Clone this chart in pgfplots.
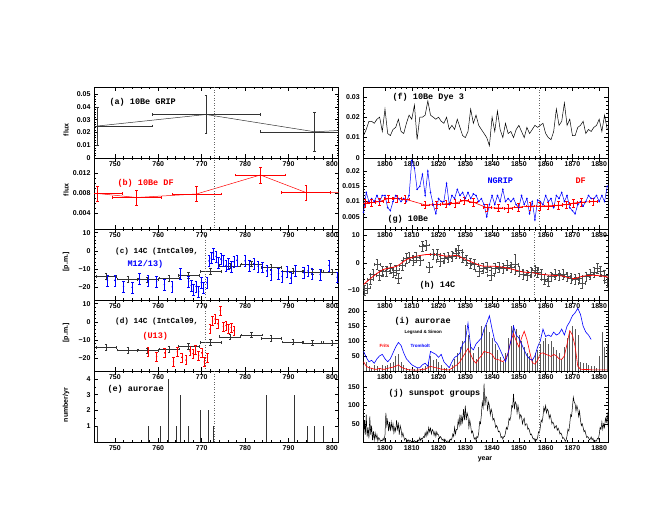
\documentclass[border=0pt]{standalone}
\usepackage{fontspec}
\setmainfont{Liberation Sans}
\newfontfamily\pl{Liberation Mono}
\usepackage{pgfplots}
\pgfplotsset{compat=1.18}
\newcommand\tf{\fontsize{7}{8}\selectfont\bfseries}
\newcommand\lf{\fontsize{8.5}{9}\selectfont\pl\bfseries}
\newcommand\lfc{\fontsize{7.7}{9}\selectfont\pl\bfseries}
\newcommand\smf{\fontsize{4.5}{5}\selectfont\bfseries}
\pgfplotsset{
 panel/.style={scale only axis, height=71pt, anchor=south west,
   axis line style={line width=0.6pt}, tick align=inside,
   major tick length=4pt, minor tick length=2pt,
   every tick/.style={black, line width=0.5pt},
   ticklabel style={font=\tf}, scaled ticks=false,
   error bars/error bar style={line width=0.4pt},
   error bars/error mark options={rotate=90, mark size=1.3pt, line width=0.4pt}},
 L/.style={panel, at={(94pt,#1)}, width=244.5pt, xmin=745.2, xmax=801.5,
   xtick={750,760,770,780,790,800}, xticklabels={750,760,770,780,790,800}, minor x tick num=4},
 R/.style={panel, at={(363.3pt,#1)}, width=245pt, xmin=1791.9, xmax=1883.4,
   xtick={1800,1810,1820,1830,1840,1850,1860,1870,1880},
   xticklabels={1800,1810,1820,1830,1840,1850,1860,1870,1880}, minor x tick num=4},
 ebxy/.style={error bars/.cd, x dir=both, x explicit, y dir=both, y explicit},
 eby/.style={error bars/.cd, y dir=both, y explicit},
 vl/.style={black!60, dotted, line width=0.6pt},
}
\begin{document}
\begin{tikzpicture}
\path[use as bounding box, fill=white] (0,0) rectangle (667pt,516pt);
% ---------------- (a)
\begin{axis}[L=358pt, ymin=0, ymax=0.0555, ytick={0,0.01,0.02,0.03,0.04,0.05},
  yticklabels={0,0.01,0.02,0.03,0.04,0.05}, minor y tick num=4]
\addplot[black!80, line width=0.5pt, mark=none, ebxy] coordinates {
 (746,0.025) +- (12.5,0.015) (771,0.034) +- (12.5,0.015)
 (796,0.0205) +- (12.5,0.015) (821,0.025) +- (12.5,0.015)};
\addplot[vl] coordinates {(773,0) (773,0.06)};
\end{axis}
% ---------------- (b)
\begin{axis}[L=287pt, ymin=0.0008, ymax=0.015, ytick={0.004,0.008,0.012},
  yticklabels={0.004,0.008,0.012}, minor y tick num=3]
\addplot[red, line width=0.5pt, mark=none, ebxy] coordinates {
 (746,0.0079) +- (5.7,0.0015) (755,0.0071) +- (5.7,0.0015) (768.8,0.0078) +- (5.7,0.0015)
 (783.5,0.0116) +- (5.7,0.0016) (794,0.0081) +- (5.7,0.0015) (808,0.0081) +- (5.7,0.0015)};
\addplot[vl] coordinates {(773,0) (773,0.02)};
\end{axis}
% ---------------- (c)
\begin{axis}[L=216pt, ymin=-27, ymax=12, ytick={-20,-10,0,10},
  yticklabels={−20,−10,0,10}, minor y tick num=4]
\addplot[black!80, only marks, mark=+, mark size=1pt, ebxy] coordinates {
 (748,-14) +- (2.4,1.5) (753,-15.5) +- (2.4,1.5) (757.5,-15.8) +- (2.4,1.5)
 (762.5,-15) +- (2.4,1.5) (767,-13.5) +- (2.4,1.5) (772,-11.3) +- (2.4,1.5)
 (776.5,-8.2) +- (2.4,1.5) (781.5,-7.2) +- (2.4,1.5) (786,-9) +- (2.4,1.5)
 (791,-11) +- (2.4,1.5) (795.5,-11.5) +- (2.4,1.5) (800,-11.5) +- (2.4,1.5)};
\addplot[blue, only marks, mark=*, mark size=0.5pt, eby] coordinates {
 (748.3,-16.2) +- (0,3) (750,-16.2) +- (0,3) (752,-19.5) +- (0,3) (754,-20) +- (0,3)
 (755.7,-15.5) +- (0,3) (757.6,-16.5) +- (0,3) (759.6,-17) +- (0,3) (761.4,-18.5) +- (0,3)
 (763.2,-19.8) +- (0,3) (765.1,-12.8) +- (0,3) (767,-17) +- (0,3) (767.6,-19) +- (0,3)
 (768.1,-21.5) +- (0,3) (768.7,-19.5) +- (0,3) (769.3,-22.5) +- (0,3) (769.9,-17.5) +- (0,3)
 (770.4,-20.5) +- (0,3) (771.2,-17.5) +- (0,3)
 (771.7,-5.5) +- (0,3) (772.2,-4) +- (0,3) (772.7,-1.5) +- (0,3) (773.3,-3) +- (0,3)
 (773.8,-6.5) +- (0,3) (774.4,-4.5) +- (0,3) (775,-5.5) +- (0,3) (775.6,-8) +- (0,3)
 (776.2,-7) +- (0,3) (776.8,-8.5) +- (0,3) (777.4,-6) +- (0,3) (778.1,-5.2) +- (0,3)
 (780,-5.5) +- (0,3) (781,-8) +- (0,3) (782,-7) +- (0,3) (783,-8.5) +- (0,3)
 (784,-9) +- (0,3) (785,-11) +- (0,3) (786,-13) +- (0,3) (787.7,-12.5) +- (0,3)
 (788.5,-14) +- (0,3) (789.6,-11.5) +- (0,3) (790.5,-15) +- (0,3) (791.6,-11) +- (0,3)
 (793.5,-12) +- (0,3) (794.5,-11) +- (0,3) (795.4,-12.5) +- (0,3) (797.3,-13) +- (0,3)
 (799.3,-8) +- (0,3) (801.2,-14.5) +- (0,3)};
\addplot[vl] coordinates {(770.8,-30) (770.8,15)};
\end{axis}
% ---------------- (d)
\begin{axis}[L=145pt, ymin=-27, ymax=12, ytick={-20,-10,0,10},
  yticklabels={−20,−10,0,10}, minor y tick num=4]
\addplot[black!80, only marks, mark=+, mark size=1pt, ebxy] coordinates {
 (748,-14) +- (2.4,1.5) (753,-15.5) +- (2.4,1.5) (757.5,-15.8) +- (2.4,1.5)
 (762.5,-15) +- (2.4,1.5) (767,-13.5) +- (2.4,1.5) (772,-11.3) +- (2.4,1.5)
 (776.5,-8.2) +- (2.4,1.5) (781.5,-7.2) +- (2.4,1.5) (786,-9) +- (2.4,1.5)
 (791,-11) +- (2.4,1.5) (795.5,-11.5) +- (2.4,1.5) (800,-11.5) +- (2.4,1.5)};
\addplot[red, only marks, mark=*, mark size=0.5pt, eby] coordinates {
 (757.6,-16.5) +- (0,2.5) (759.6,-19) +- (0,2.5) (761.5,-17) +- (0,2.5) (763.5,-22) +- (0,2.5)
 (764.4,-16.5) +- (0,2.5) (765.4,-19.5) +- (0,2.5) (766.4,-21) +- (0,2.5) (767.3,-16) +- (0,2.5)
 (768,-17.5) +- (0,2.5) (768.6,-15.5) +- (0,2.5) (769.3,-18.5) +- (0,2.5) (770,-17) +- (0,2.5)
 (770.6,-22) +- (0,2.5) (771.3,-19.5) +- (0,2.5)
 (771.9,-4) +- (0,2.5) (772.5,0.5) +- (0,2.5) (773.1,1.5) +- (0,2.5) (773.7,-1) +- (0,2.5)
 (774.3,6.3) +- (0,2.5) (775,-2.5) +- (0,2.5) (775.6,-2) +- (0,2.5) (776.2,-4) +- (0,2.5)
 (776.8,-3) +- (0,2.5) (777.4,-4.8) +- (0,2.5)};
\addplot[vl] coordinates {(770.8,-30) (770.8,15)};
\end{axis}
% ---------------- (e)
\begin{axis}[L=74pt, ymin=0, ymax=4.5, ytick={1,2,3,4}, yticklabels={1,2,3,4}, minor y tick num=1]
\addplot[ycomb, black!80, line width=0.6pt, mark=none] coordinates {
 (745.9,1) (757.6,1) (760.5,1) (762.3,4) (764.1,1) (765,3) (766.8,1) (769.7,2)
 (771.6,2) (772.6,1) (784.8,3) (791.4,3) (794.2,1) (796,1) (798,1) (801.4,1)};
\addplot[vl] coordinates {(773,0) (773,5)};
\end{axis}
% ---------------- (f)
\begin{axis}[R=358pt, ymin=0, ymax=0.0348, ytick={0,0.01,0.02,0.03},
  yticklabels={0,0.01,0.02,0.03}, minor y tick num=4]
\addplot[black, line width=0.5pt] table {
1792 0.011
1793 0.014
1794 0.018
1795 0.018
1796 0.017
1797 0.019
1798 0.020
1799 0.013
1800 0.024
1801 0.012
1802 0.011
1803 0.014
1804 0.015
1805 0.019
1806 0.013
1807 0.012
1808 0.017
1809 0.021
1810 0.019
1811 0.026
1812 0.009
1813 0.020
1814 0.020
1815 0.021
1816 0.028
1817 0.021
1818 0.020
1819 0.019
1820 0.020
1821 0.018
1822 0.017
1823 0.020
1824 0.014
1825 0.016
1826 0.014
1827 0.019
1828 0.015
1829 0.011
1830 0.010
1831 0.013
1832 0.024
1833 0.017
1834 0.021
1835 0.016
1836 0.014
1837 0.012
1838 0.010
1839 0.006
1840 0.020
1841 0.013
1842 0.023
1843 0.014
1844 0.010
1845 0.017
1846 0.012
1847 0.013
1848 0.010
1849 0.014
1850 0.016
1851 0.013
1852 0.010
1853 0.015
1854 0.012
1855 0.014
1856 0.016
1857 0.015
1858 0.016
1859 0.017
1860 0.012
1861 0.010
1862 0.009
1863 0.013
1864 0.024
1865 0.016
1866 0.018
1867 0.027
1868 0.016
1869 0.019
1870 0.011
1871 0.011
1872 0.015
1873 0.016
1874 0.018
1875 0.012
1876 0.014
1877 0.013
1878 0.015
1879 0.016
1880 0.019
1881 0.013
1882 0.021
1883 0.014
};
\addplot[vl] coordinates {(1857.6,0) (1857.6,0.04)};
\end{axis}
% ---------------- (g)
\begin{axis}[R=287pt, ymin=0.001, ymax=0.0243, ytick={0.005,0.01,0.015,0.02},
  yticklabels={0.005,0.01,0.015,0.02}, minor y tick num=4]
\addplot[blue, line width=0.5pt, mark=*, mark size=0.5pt] table {
1792 0.0065
1793 0.013
1794 0.010
1795 0.011
1796 0.010
1797 0.012
1798 0.010
1799 0.012
1800 0.012
1801 0.008
1802 0.007
1803 0.010
1804 0.012
1805 0.011
1806 0.010
1807 0.011
1808 0.010
1809 0.012
1810 0.0235
1811 0.021
1812 0.014
1813 0.015
1814 0.019
1815 0.012
1816 0.020
1817 0.013
1818 0.009
1819 0.006
1820 0.011
1821 0.010
1822 0.010
1823 0.016
1824 0.009
1825 0.012
1826 0.011
1827 0.014
1828 0.012
1829 0.013
1830 0.011
1831 0.013
1832 0.011
1833 0.0125
1834 0.012
1835 0.010
1836 0.011
1837 0.009
1838 0.005
1839 0.009
1840 0.012
1841 0.009
1842 0.012
1843 0.010
1844 0.014
1845 0.010
1846 0.011
1847 0.010
1848 0.011
1849 0.009
1850 0.008
1851 0.012
1852 0.009
1853 0.011
1854 0.006
1855 0.010
1856 0.004
1857 0.0105
1858 0.010
1859 0.009
1860 0.012
1861 0.010
1862 0.011
1863 0.008
1864 0.012
1865 0.011
1866 0.013
1867 0.010
1868 0.012
1869 0.008
1870 0.007
1871 0.006
1872 0.009
1873 0.010
1874 0.0085
1875 0.010
1876 0.012
1877 0.011
1878 0.011
1879 0.012
1880 0.010
1881 0.012
1882 0.010
1883 0.015
};
\addplot[red, line width=0.6pt, mark=none, ebxy] coordinates {
 (1792.5,0.0095) +- (1.5,0.0012) (1795,0.0097) +- (1.5,0.0012) (1798,0.0100) +- (1.5,0.0012)
 (1801.2,0.0110) +- (1.5,0.0012) (1804.4,0.0110) +- (1.5,0.0012) (1807.5,0.0108) +- (1.5,0.0012)
 (1815,0.0089) +- (1.5,0.0012) (1819.3,0.0090) +- (1.5,0.0012) (1822.8,0.0093) +- (1.5,0.0012)
 (1826.1,0.0095) +- (1.5,0.0012) (1829.5,0.0103) +- (1.5,0.0012) (1833,0.0098) +- (1.5,0.0012)
 (1838,0.0080) +- (1.5,0.0012) (1842.3,0.0079) +- (1.5,0.0012) (1846,0.0078) +- (1.5,0.0012)
 (1849.8,0.0082) +- (1.5,0.0012) (1854.1,0.0085) +- (1.5,0.0012) (1857.8,0.0085) +- (1.5,0.0012)
 (1860.9,0.0086) +- (1.5,0.0012) (1864.7,0.0088) +- (1.5,0.0012) (1867.8,0.0090) +- (1.5,0.0012)
 (1870.3,0.0095) +- (1.5,0.0012) (1873.4,0.0098) +- (1.5,0.0012) (1877.7,0.0100) +- (1.5,0.0012)};
\addplot[vl] coordinates {(1857.6,0) (1857.6,0.03)};
\end{axis}
% ---------------- (h)
\begin{axis}[R=216pt, ymin=-13.4, ymax=12.2, ytick={-10,0,10},
  yticklabels={−10,0,10}, minor y tick num=4]
\addplot[black!70, only marks, mark=+, mark size=0.8pt, ebxy] coordinates {
 (1792.3,-10) +- (1.2,1.8) (1793.2,-9) +- (1.2,1.8) (1794.5,-6) +- (1.2,1.8) (1795.5,-4) +- (1.2,1.8)
 (1797,-0.5) +- (1.2,1.8) (1798,-4.5) +- (1.2,1.8) (1799,-3) +- (1.2,1.8) (1800.5,-3) +- (1.2,1.8)
 (1802,-2) +- (1.2,1.8) (1803,-3.5) +- (1.2,1.8) (1804,-2.5) +- (1.2,1.8) (1805,-5.5) +- (1.2,1.8)
 (1806.5,-1) +- (1.2,1.8) (1808,1.5) +- (1.2,1.8) (1809,2) +- (1.2,1.8) (1810.5,1) +- (1.2,1.8)
 (1811.5,2) +- (1.2,1.8) (1813,1) +- (1.2,1.8) (1814,6) +- (1.2,1.8) (1815.3,6.5) +- (1.2,1.8)
 (1816.5,-1.5) +- (1.2,1.8) (1818,3) +- (1.2,1.8) (1819.5,3) +- (1.2,1.8) (1820.5,0.5) +- (1.2,1.8)
 (1822,1.5) +- (1.2,1.8) (1823.5,2) +- (1.2,1.8) (1825,2.5) +- (1.2,1.8) (1826.5,3.5) +- (1.2,1.8)
 (1827.5,4.5) +- (1.2,1.8) (1829,2) +- (1.2,1.8) (1830.5,1) +- (1.2,1.8) (1832,0) +- (1.2,1.8)
 (1833.5,-0.5) +- (1.2,1.8) (1835,-3) +- (1.2,1.8) (1836.5,-2) +- (1.2,1.8) (1838,-1.5) +- (1.2,1.8)
 (1839.5,-4.5) +- (1.2,1.8) (1841,-2) +- (1.2,1.8) (1842.5,-1.5) +- (1.2,1.8) (1844,-2) +- (1.2,1.8)
 (1845.5,-1) +- (1.2,1.8) (1847,-1.5) +- (1.2,1.8) (1848.5,-0.5) +- (1.2,3.5) (1850,-3) +- (1.2,1.8)
 (1851.5,-4) +- (1.2,1.8) (1853,-4.5) +- (1.2,1.8) (1854.5,-3.5) +- (1.2,1.8) (1856,-2.5) +- (1.2,1.8)
 (1857,-3.5) +- (1.2,1.8) (1858.5,-4) +- (1.2,1.8) (1859.5,-6) +- (1.2,1.8) (1861,-6.5) +- (1.2,1.8)
 (1862,-5) +- (1.2,1.8) (1863.5,-4) +- (1.2,1.8) (1865,-4.5) +- (1.2,1.8) (1866.5,-4) +- (1.2,1.8)
 (1868,-5) +- (1.2,1.8) (1869.5,-5.5) +- (1.2,1.8) (1871,-6) +- (1.2,1.8) (1872.5,-5.5) +- (1.2,1.8)
 (1873.5,-7.5) +- (1.2,1.8) (1875,-5) +- (1.2,1.8) (1876.5,-4) +- (1.2,1.8) (1878,-3.5) +- (1.2,1.8)
 (1879.3,-2) +- (1.2,1.8) (1880.5,-3) +- (1.2,1.8) (1882,-4.5) +- (1.2,1.8) (1883,-7) +- (1.2,1.8)};
\addplot[red, smooth, line width=0.8pt] coordinates {
 (1792,-7.8) (1795.7,-4.8) (1799.4,-2.4) (1804.4,-1.2) (1808.1,1.2) (1811.9,2.4) (1815.6,3)
 (1819.3,3) (1823,2.4) (1826.7,2.6) (1829.8,1.4) (1833,0) (1836.7,-1.2) (1840.4,-1.2)
 (1844.2,-1.6) (1847.9,-2.4) (1851.6,-3.3) (1855.3,-3.6) (1859,-4.2) (1862.8,-4.5)
 (1866.5,-4.8) (1870.3,-5.7) (1874,-4.8) (1877.7,-4.5) (1881.4,-4.8) (1883.4,-5.2)};
\addplot[vl] coordinates {(1855.8,-20) (1855.8,20)};
\end{axis}
% ---------------- (i)
\begin{axis}[R=145pt, ymin=-1, ymax=238, ytick={50,100,150,200},
  yticklabels={50,100,150,200}, minor y tick num=4]
\addplot[ycomb, black!65, line width=0.5pt, mark=none] coordinates {
 (1792,20) (1793,30) (1794,15) (1795,10) (1796,20) (1797,15) (1798,10) (1799,20) (1800,15)
 (1801,20) (1802,25) (1803,30) (1804,50) (1805,55) (1806,30) (1807,20) (1808,10) (1809,5)
 (1810,5) (1811,5) (1812,10) (1813,5) (1814,10) (1815,15) (1816,30) (1817,50) (1818,35)
 (1819,40) (1820,30) (1821,20) (1822,10) (1823,10) (1824,5) (1825,20) (1826,40) (1827,60)
 (1828,80) (1829,100) (1830,155) (1831,120) (1832,90) (1833,60) (1834,40) (1835,80)
 (1836,150) (1837,140) (1838,155) (1839,130) (1840,110) (1841,90) (1842,70) (1843,45)
 (1844,30) (1845,60) (1846,110) (1847,150) (1848,155) (1849,140) (1850,120) (1851,100)
 (1852,80) (1853,60) (1854,50) (1855,40) (1856,60) (1857,70) (1858,90) (1859,100)
 (1860,110) (1861,90) (1862,100) (1863,80) (1864,70) (1865,60) (1866,40) (1867,80)
 (1868,110) (1869,130) (1870,150) (1871,140) (1872,120) (1873,30) (1874,25) (1875,25)
 (1876,20) (1877,15) (1878,15) (1879,10) (1880,50) (1881,130) (1882,80) (1883,90)};
\addplot[red, line width=0.6pt] coordinates {
 (1792,30) (1793,15) (1794,10) (1795,8) (1796,5) (1797,5) (1798,8) (1799,5) (1800,5)
 (1801,8) (1802,10) (1803,12) (1804,15) (1805,20) (1806,12) (1807,8) (1808,5) (1809,3)
 (1810,3) (1811,2) (1812,2) (1813,3) (1814,5) (1815,5) (1816,10) (1817,15) (1818,12)
 (1819,10) (1820,8) (1821,5) (1822,5) (1823,3) (1824,3) (1825,8) (1826,15) (1827,20)
 (1828,30) (1829,45) (1830,60) (1831,75) (1832,55) (1833,35) (1834,25) (1835,40)
 (1836,50) (1837,65) (1838,62) (1839,60) (1840,55) (1841,40) (1842,38) (1843,35)
 (1844,30) (1845,40) (1846,60) (1847,100) (1848,125) (1849,100) (1850,80) (1851,110)
 (1852,133) (1853,105) (1854,65) (1855,28) (1856,22) (1857,35) (1858,58) (1859,60)
 (1860,55) (1861,52) (1862,48) (1863,55) (1864,50) (1865,40) (1866,38) (1867,50)
 (1868,90) (1869,135) (1870,120) (1871,82) (1872,15) (1873,5) (1874,4) (1875,4)
 (1876,4) (1877,3) (1878,3) (1879,3) (1880,3) (1881,3) (1882,3) (1883,3)};
\addplot[blue, line width=0.6pt] coordinates {
 (1792,65) (1793,45) (1794,30) (1795,35) (1796,25) (1797,40) (1798,50) (1799,55) (1800,40)
 (1801,30) (1802,40) (1803,60) (1804,80) (1805,95) (1806,85) (1807,60) (1808,40) (1809,30)
 (1810,20) (1811,15) (1812,10) (1813,10) (1814,20) (1815,25) (1816,15) (1817,65) (1818,60)
 (1819,55) (1820,45) (1821,55) (1822,30) (1823,20) (1824,10) (1825,30) (1826,45) (1827,50)
 (1828,60) (1829,90) (1830,100) (1831,160) (1832,80) (1833,70) (1834,90) (1835,100)
 (1836,110) (1837,140) (1838,160) (1839,185) (1840,140) (1841,100) (1842,90) (1843,70)
 (1844,50) (1845,30) (1846,60) (1847,100) (1848,150) (1849,120) (1850,110) (1851,90)
 (1852,70) (1853,50) (1854,40) (1855,35) (1856,50) (1857,80) (1858,100) (1859,140)
 (1860,115) (1861,120) (1862,115) (1863,130) (1864,120) (1865,125) (1866,140) (1867,120)
 (1868,150) (1869,165) (1870,185) (1871,195) (1872,210) (1873,190) (1874,150) (1875,130)
 (1876,120) (1877,105)};
\addplot[vl] coordinates {(1857.6,-10) (1857.6,250)};
\end{axis}
% ---------------- (j)
\begin{axis}[R=74pt, ymin=0, ymax=195, ytick={50,100,150},
  yticklabels={50,100,150}, minor y tick num=4]
\addplot[black, line width=0.5pt] table {
1792 10
1792.33 60
1792.67 20
1793 75
1793.33 15
1793.67 40
1794 10
1794.33 70
1794.67 20
1795 45
1795.33 5
1795.67 30
1796 5
1796.33 25
1796.67 10
1797 20
1797.33 3
1797.67 12
1798 8
1798.33 2
1798.67 5
1799 3
1799.33 10
1799.67 4
1800 20
1800.33 80
1800.67 45
1801 60
1801.33 30
1801.67 55
1802 30
1802.33 55
1802.67 35
1803 50
1803.33 25
1803.67 40
1804 30
1804.33 60
1804.67 35
1805 50
1805.33 20
1805.67 45
1806 35
1806.33 15
1806.67 25
1807 15
1807.33 5
1807.67 10
1808 8
1808.33 2
1808.67 6
1809 1
1809.33 5
1809.67 2
1810 0
1810.33 3
1810.67 1
1811 4
1811.33 1
1811.67 2
1812 1
1812.33 6
1812.67 3
1813 12
1813.33 4
1813.67 10
1814 8
1814.33 15
1814.67 12
1815 25
1815.33 15
1815.67 30
1816 20
1816.33 40
1816.67 28
1817 38
1817.33 22
1817.67 34
1818 30
1818.33 18
1818.67 28
1819 15
1819.33 28
1819.67 20
1820 20
1820.33 10
1820.67 15
1821 12
1821.33 5
1821.67 8
1822 3
1822.33 8
1822.67 4
1823 1
1823.33 3
1823.67 2
1824 2
1824.33 8
1824.67 5
1825 10
1825.33 22
1825.67 15
1826 40
1826.33 22
1826.67 35
1827 35
1827.33 60
1827.67 45
1828 75
1828.33 45
1828.67 70
1829 55
1829.33 90
1829.67 60
1830 100
1830.33 60
1830.67 80
1831 70
1831.33 40
1831.67 60
1832 45
1832.33 25
1832.67 30
1833 20
1833.33 8
1833.67 12
1834 5
1834.33 15
1834.67 12
1835 25
1835.33 55
1835.67 50
1836 75
1836.33 110
1836.67 95
1837 160
1837.33 100
1837.67 125
1838 120
1838.33 85
1838.67 110
1839 100
1839.33 75
1839.67 90
1840 80
1840.33 60
1840.67 65
1841 55
1841.33 40
1841.67 45
1842 40
1842.33 28
1842.67 30
1843 25
1843.33 12
1843.67 15
1844 8
1844.33 15
1844.67 15
1845 25
1845.33 40
1845.67 35
1846 45
1846.33 65
1846.67 60
1847 70
1847.33 100
1847.67 95
1848 132
1848.33 90
1848.67 110
1849 105
1849.33 80
1849.67 100
1850 85
1850.33 65
1850.67 75
1851 70
1851.33 50
1851.67 60
1852 65
1852.33 45
1852.67 50
1853 50
1853.33 35
1853.67 38
1854 30
1854.33 20
1854.67 22
1855 15
1855.33 8
1855.67 10
1856 3
1856.33 8
1856.67 5
1857 12
1857.33 28
1857.67 25
1858 40
1858.33 60
1858.67 55
1859 70
1859.33 95
1859.67 85
1860 100
1860.33 80
1860.67 90
1861 85
1861.33 65
1861.67 75
1862 65
1862.33 50
1862.67 55
1863 50
1863.33 38
1863.67 42
1864 45
1864.33 32
1864.67 38
1865 32
1865.33 22
1865.67 25
1866 20
1866.33 10
1866.67 12
1867 8
1867.33 2
1867.67 6
1868 18
1868.33 35
1868.67 30
1869 50
1869.33 75
1869.67 70
1870 95
1870.33 123
1870.67 110
1871 105
1871.33 85
1871.67 100
1872 90
1872.33 70
1872.67 85
1873 60
1873.33 45
1873.67 50
1874 40
1874.33 28
1874.67 32
1875 22
1875.33 12
1875.67 15
1876 12
1876.33 6
1876.67 8
1877 14
1877.33 6
1877.67 10
1878 1
1878.33 5
1878.67 2
1879 3
1879.33 10
1879.67 8
1880 20
1880.33 40
1880.67 35
1881 55
1881.33 35
1881.67 50
1882 40
1882.33 65
1882.67 55
1883 75
1883.33 45
1883.67 65
};
\addplot[vl] coordinates {(1857.6,-10) (1857.6,250)};
\end{axis}
% ---------------- texts
\node[anchor=west, font=\lf] at (106pt,414pt) {(a) 10Be GRIP};
\node[anchor=west, font=\lf, text=red] at (114pt,332.7pt) {(b) 10Be DF};
\node[anchor=west, font=\lfc, inner sep=0pt, fill=white] at (115pt,264.3pt) {(c) 14C (IntCal09,};
\node[anchor=west, font=\lf, text=blue] at (124pt,251.7pt) {M12/13)};
\node[anchor=west, font=\lfc, inner sep=0pt] at (115pt,194.3pt) {(d) 14C (IntCal09,};
\node[anchor=west, font=\lf, text=red] at (139pt,180pt) {(U13)};
\node[anchor=west, font=\lf] at (104pt,126.7pt) {(e) aurorae};
\node[anchor=west, font=\lf] at (389pt,418.3pt) {(f) 10Be Dye 3};
\node[anchor=west, font=\lf] at (384pt,297pt) {(g) 10Be};
\node[anchor=west, font=\lf, text=blue] at (484pt,335pt) {NGRIP};
\node[anchor=west, font=\lf, text=red] at (572pt,335pt) {DF};
\node[anchor=west, font=\lf] at (416pt,230.3pt) {(h) 14C};
\node[anchor=west, font=\lf] at (391pt,194.3pt) {(i) aurorae};
\node[anchor=west, font=\smf] at (401pt,183.7pt) {Legrand \& Simon};
\node[anchor=west, font=\smf, text=red] at (376pt,170pt) {Frits};
\node[anchor=west, font=\smf, text=blue] at (407pt,170pt) {Tromholt};
\node[anchor=west, font=\lf] at (385pt,123pt) {(j) sunspot groups};
\node[rotate=90, font=\tf] at (66pt,386pt) {flux};
\node[rotate=90, font=\tf] at (66pt,326pt) {flux};
\node[rotate=90, font=\tf] at (66pt,254pt) {[p.m.]};
\node[rotate=90, font=\tf] at (66pt,183pt) {[p.m.]};
\node[rotate=90, font=\tf] at (66pt,111pt) {number/yr};
\node[font=\tf] at (485pt,57pt) {year};
\end{tikzpicture}
\end{document}
